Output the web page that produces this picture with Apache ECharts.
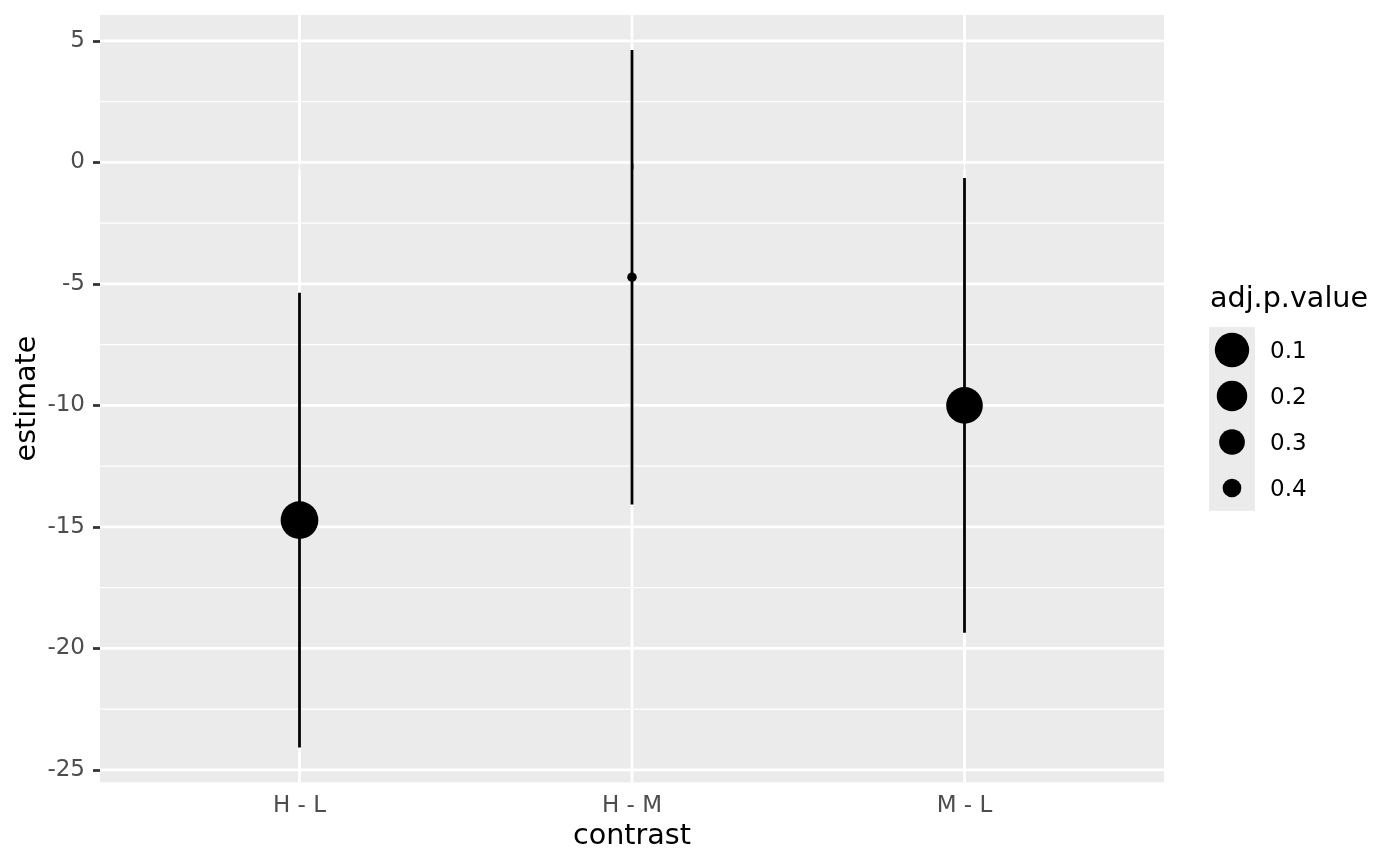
<!DOCTYPE html>
<html>
<head>
<meta charset="utf-8">
<script src="https://cdn.jsdelivr.net/npm/echarts@6/dist/echarts.min.js"></script>
<style>
html,body{margin:0;padding:0;background:#fff;}
#chart{width:1400px;height:866px;}
</style>
</head>
<body>
<div id="chart"></div>
<script>
// ---- data (TukeyHSD-style contrasts) ----
const categories = ['H - L', 'H - M', 'M - L'];
const estimate   = [-14.722222, -4.722222, -10.000000];
const lower      = [-24.07564, -14.07564, -19.35342];
const upper      = [-5.3688015, 4.6312985, -0.6465793];
const adjPValue  = [0.0011218, 0.4474210, 0.0336262];
const yTicks      = [-25, -20, -15, -10, -5, 0, 5];
const yMinorTicks = [-22.5, -17.5, -12.5, -7.5, -2.5, 2.5];
const legendBreaks = [0.1, 0.2, 0.3, 0.4];

// ---- scales ----
const yMinData = Math.min(...lower), yMaxData = Math.max(...upper);
const yPad = (yMaxData - yMinData) * 0.05;
const yMin = yMinData - yPad, yMax = yMaxData + yPad;
const pMin = Math.min(...adjPValue), pMax = Math.max(...adjPValue);
function diam(p) {
  let t = (pMax - p) / (pMax - pMin);
  t = Math.max(0, Math.min(1, t));
  const size = 1 + 5 * Math.sqrt(t);
  return 3.86 + 5.64 * size;
}

const FONT = 'DejaVu Sans';
const GRID = {left: 100, top: 15, width: 1064, height: 767.3};

const chart = echarts.init(document.getElementById('chart'), null, {renderer: 'canvas'});

// legend + axis titles
const extraGraphics = [
  {type: 'text', x: 1210, y: 300, style: {text: 'adj.p.value', font: '28.6px "' + FONT + '"', fill: '#000', textVerticalAlign: 'middle', textAlign: 'left'}},
  {type: 'rect', x: 1209, y: 327, shape: {x: 0, y: 0, width: 46, height: 46 * legendBreaks.length}, style: {fill: '#EBEBEB'}}
];
legendBreaks.forEach((b, i) => {
  const cy = 327 + 23 + 46 * i;
  extraGraphics.push({type: 'circle', shape: {cx: 1232, cy: cy, r: diam(b) / 2}, style: {fill: '#000'}});
  extraGraphics.push({type: 'text', x: 1270, y: cy + 2, style: {text: String(b), font: '23px "' + FONT + '"', fill: '#000', textVerticalAlign: 'middle', textAlign: 'left'}});
});
extraGraphics.push({type: 'text', x: 632, y: 837, style: {text: 'contrast', font: '28.6px "' + FONT + '"', fill: '#000', textAlign: 'center', textVerticalAlign: 'middle'}});
extraGraphics.push({type: 'text', x: 28, y: 398.5, rotation: Math.PI / 2, style: {text: 'estimate', font: '28.6px "' + FONT + '"', fill: '#000', textAlign: 'center', textVerticalAlign: 'middle'}});

// one custom series drawing the whole panel grid (major/minor, horizontal/vertical)
function gridRender(params, api) {
  const cs = params.coordSys;
  const children = [];
  yMinorTicks.forEach(v => {
    const y = api.coord([1, v])[1];
    children.push({type: 'line', shape: {x1: cs.x, y1: y, x2: cs.x + cs.width, y2: y}, style: {stroke: '#FFFFFF', lineWidth: 1.39}});
  });
  yTicks.forEach(v => {
    const y = api.coord([1, v])[1];
    children.push({type: 'line', shape: {x1: cs.x, y1: y, x2: cs.x + cs.width, y2: y}, style: {stroke: '#FFFFFF', lineWidth: 2.78}});
  });
  categories.forEach((c, i) => {
    const x = api.coord([i + 1, 0])[0];
    children.push({type: 'line', shape: {x1: x, y1: cs.y, x2: x, y2: cs.y + cs.height}, style: {stroke: '#FFFFFF', lineWidth: 2.78}});
  });
  return {type: 'group', children: children};
}

const option = {
  animation: false,
  backgroundColor: '#FFFFFF',
  grid: Object.assign({show: true, backgroundColor: '#EBEBEB', borderWidth: 0}, GRID),
  xAxis: {
    type: 'value', min: 0.4, max: 3.6,
    axisLine: {show: false},
    splitLine: {show: false},
    axisTick: {show: true, length: 7, customValues: categories.map((c, i) => i + 1), lineStyle: {color: '#333333', width: 2.78}},
    axisLabel: {show: true, margin: 12, customValues: categories.map((c, i) => i + 1),
      formatter: v => categories[Math.round(v) - 1] || '',
      color: '#4D4D4D', fontSize: 23, fontFamily: FONT}
  },
  yAxis: {
    type: 'value', min: yMin, max: yMax,
    axisLine: {show: false},
    splitLine: {show: false},
    axisTick: {show: true, length: 7, customValues: yTicks, lineStyle: {color: '#333333', width: 2.78}},
    axisLabel: {show: true, margin: 15, customValues: yTicks, formatter: v => String(v),
      color: '#4D4D4D', fontSize: 23, fontFamily: FONT}
  },
  graphic: extraGraphics,
  series: [
    {type: 'custom', silent: true, z: 1, clip: true, renderItem: gridRender,
      encode: {x: 0, y: 1}, data: [[1, 0]]},
    {type: 'custom', silent: true, z: 5,
      encode: {x: 0, y: [1, 2]},
      data: categories.map((c, i) => [i + 1, lower[i], upper[i]]),
      renderItem: function (params, api) {
        const p1 = api.coord([api.value(0), api.value(1)]);
        const p2 = api.coord([api.value(0), api.value(2)]);
        return {type: 'line', shape: {x1: p1[0], y1: p1[1], x2: p2[0], y2: p2[1]},
          style: {stroke: '#000000', lineWidth: 2.78}};
      }},
    {type: 'scatter', z: 6, silent: true,
      data: categories.map((c, i) => [i + 1, estimate[i], adjPValue[i]]),
      symbol: 'circle',
      symbolSize: val => diam(val[2]),
      itemStyle: {color: '#000000', opacity: 1}}
  ]
};
chart.setOption(option);
</script>
</body>
</html>
